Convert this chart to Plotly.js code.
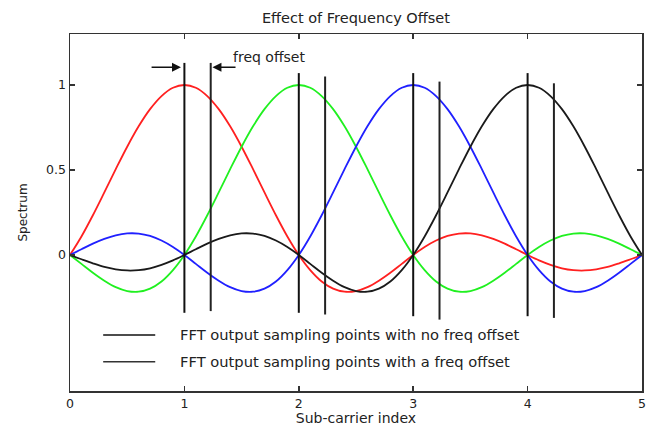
<!DOCTYPE html>
<html>
<head>
<meta charset="utf-8">
<script src="https://cdn.plot.ly/plotly-3.0.1.min.js"></script>
<style>html,body{margin:0;padding:0;background:#fff;}#chart{width:653px;height:428px;}</style>
</head>
<body>
<div id="chart"></div>
<script>
// Sub-carrier index samples
const xs = [0,0.1,0.2,0.3,0.4,0.5,0.6,0.7,0.8,0.9,1,1.1,1.2,1.3,1.4,1.5,1.6,1.7,1.8,1.9,2,2.1,2.2,2.3,2.4,2.5,2.6,2.7,2.8,2.9,3,3.1,3.2,3.3,3.4,3.5,3.6,3.7,3.8,3.9,4,4.1,4.2,4.3,4.4,4.5,4.6,4.7,4.8,4.9,5];
// Spectrum of each sub-carrier
const red   = [0,0.109,0.234,0.368,0.505,0.637,0.757,0.858,0.935,0.984,1,0.984,0.935,0.858,0.757,0.637,0.505,0.368,0.234,0.109,0,-0.089,-0.156,-0.198,-0.216,-0.212,-0.189,-0.151,-0.104,-0.052,0,0.047,0.085,0.112,0.126,0.127,0.116,0.095,0.067,0.034,0,-0.032,-0.058,-0.078,-0.089,-0.091,-0.084,-0.070,-0.049,-0.025,0];
const green = [0,-0.052,-0.104,-0.151,-0.189,-0.212,-0.216,-0.198,-0.156,-0.089,0,0.109,0.234,0.368,0.505,0.637,0.757,0.858,0.935,0.984,1,0.984,0.935,0.858,0.757,0.637,0.505,0.368,0.234,0.109,0,-0.089,-0.156,-0.198,-0.216,-0.212,-0.189,-0.151,-0.104,-0.052,0,0.047,0.085,0.112,0.126,0.127,0.116,0.095,0.067,0.034,0];
const blue  = [0,0.034,0.067,0.095,0.116,0.127,0.126,0.112,0.085,0.047,0,-0.052,-0.104,-0.151,-0.189,-0.212,-0.216,-0.198,-0.156,-0.089,0,0.109,0.234,0.368,0.505,0.637,0.757,0.858,0.935,0.984,1,0.984,0.935,0.858,0.757,0.637,0.505,0.368,0.234,0.109,0,-0.089,-0.156,-0.198,-0.216,-0.212,-0.189,-0.151,-0.104,-0.052,0];
const black = [0,-0.025,-0.049,-0.070,-0.084,-0.091,-0.089,-0.078,-0.058,-0.032,0,0.034,0.067,0.095,0.116,0.127,0.126,0.112,0.085,0.047,0,-0.052,-0.104,-0.151,-0.189,-0.212,-0.216,-0.198,-0.156,-0.089,0,0.109,0.234,0.368,0.505,0.637,0.757,0.858,0.935,0.984,1,0.984,0.935,0.858,0.757,0.637,0.505,0.368,0.234,0.109,0];

// FFT sampling points (vertical lines)
const noOffX   = [1,2,3,4];
const noOffTop = [1.13,1.07,1.07,1.07];
const noOffBot = [-0.34,-0.34,-0.36,-0.36];
const offX     = [1.23,2.23,3.23,4.23];
const offTop   = [1.13,1.05,1.02,1.01];
const offBot   = [-0.33,-0.35,-0.38,-0.37];

const legendLabels = ["FFT output sampling points with no freq offset","FFT output sampling points with a freq offset"];
const titleText = "Effect of Frequency Offset";
const xTitle = "Sub-carrier index";
const yTitle = "Spectrum";
const annotText = "freq offset";

function vlines(xv, top, bot){
  const x=[], y=[];
  xv.forEach((v,i)=>{ x.push(v,v,null); y.push(bot[i],top[i],null); });
  return {x,y};
}
const v1 = vlines(noOffX,noOffTop,noOffBot);
const v2 = vlines(offX,offTop,offBot);

const curve = (y,c)=>({x:xs,y:y,mode:'lines',line:{color:c,width:1.8,shape:'spline',smoothing:1},showlegend:false,hoverinfo:'skip'});
const data = [
  curve(red,'#ff2020'),
  curve(green,'#20f020'),
  curve(blue,'#2020ff'),
  curve(black,'#1a1a1a'),
  {x:v1.x,y:v1.y,mode:'lines',line:{color:'#111',width:2},name:legendLabels[0],showlegend:false},
  {x:v2.x,y:v2.y,mode:'lines',line:{color:'#222',width:2},name:legendLabels[1],showlegend:false}
];

const FF = 'DejaVu Sans, Verdana, sans-serif';
const layout = {
  width:653, height:428,
  margin:{l:70,r:11,t:34,b:37},
  paper_bgcolor:'#fff', plot_bgcolor:'#fff',
  font:{family:FF, color:'#222', size:12},
  title:{text:titleText, x:0.545, xanchor:'center', y:0.958, yanchor:'middle', font:{family:FF,size:14.5,color:'#222'}},
  xaxis:{range:[0,5], tickvals:[0,1,2,3,4,5], ticks:'inside', ticklen:5, tickwidth:1.5, tickcolor:'#333',
         showline:true, linecolor:'#333', linewidth:1.5, mirror:'ticks', showgrid:false, zeroline:false,
         title:{text:xTitle, standoff:1, font:{family:FF,size:14}}, tickfont:{family:FF,size:12.5}},
  yaxis:{range:[-0.8,1.3], tickvals:[0,0.5,1], ticktext:['0','0.5','1'], ticks:'inside', ticklen:5, tickwidth:1.5, tickcolor:'#333',
         showline:true, linecolor:'#333', linewidth:1.5, mirror:'ticks', showgrid:false, zeroline:false,
         title:{text:yTitle, standoff:16, font:{family:FF,size:12}}, tickfont:{family:FF,size:12.5}},
  shapes:[
    {type:'line', xref:'paper', yref:'paper', x0:0.058, x1:0.149, y0:0.157, y1:0.157, line:{color:'#111',width:1.5}},
    {type:'line', xref:'paper', yref:'paper', x0:0.058, x1:0.149, y0:0.082, y1:0.082, line:{color:'#333',width:1.5}}
  ],
  annotations:[
    {xref:'paper', yref:'paper', x:0.189, y:0.157, xanchor:'left', yanchor:'middle', text:legendLabels[0], showarrow:false, font:{family:FF,size:14.7}},
    {xref:'paper', yref:'paper', x:0.189, y:0.082, xanchor:'left', yanchor:'middle', text:legendLabels[1], showarrow:false, font:{family:FF,size:14.7}},
    {x:0.97, y:1.105, ax:0.70, ay:1.105, axref:'x', ayref:'y', xref:'x', yref:'y', text:'', showarrow:true, arrowhead:2, arrowsize:1.2, arrowwidth:1.5, arrowcolor:'#111'},
    {x:1.245, y:1.105, ax:1.46, ay:1.105, axref:'x', ayref:'y', xref:'x', yref:'y', text:'', showarrow:true, arrowhead:2, arrowsize:1.2, arrowwidth:1.5, arrowcolor:'#111'},
    {x:1.41, y:1.165, xref:'x', yref:'y', xanchor:'left', yanchor:'middle', text:annotText, showarrow:false, font:{family:FF,size:14}}
  ]
};
Plotly.newPlot('chart', data, layout, {displayModeBar:false, staticPlot:true});
</script>
</body>
</html>
